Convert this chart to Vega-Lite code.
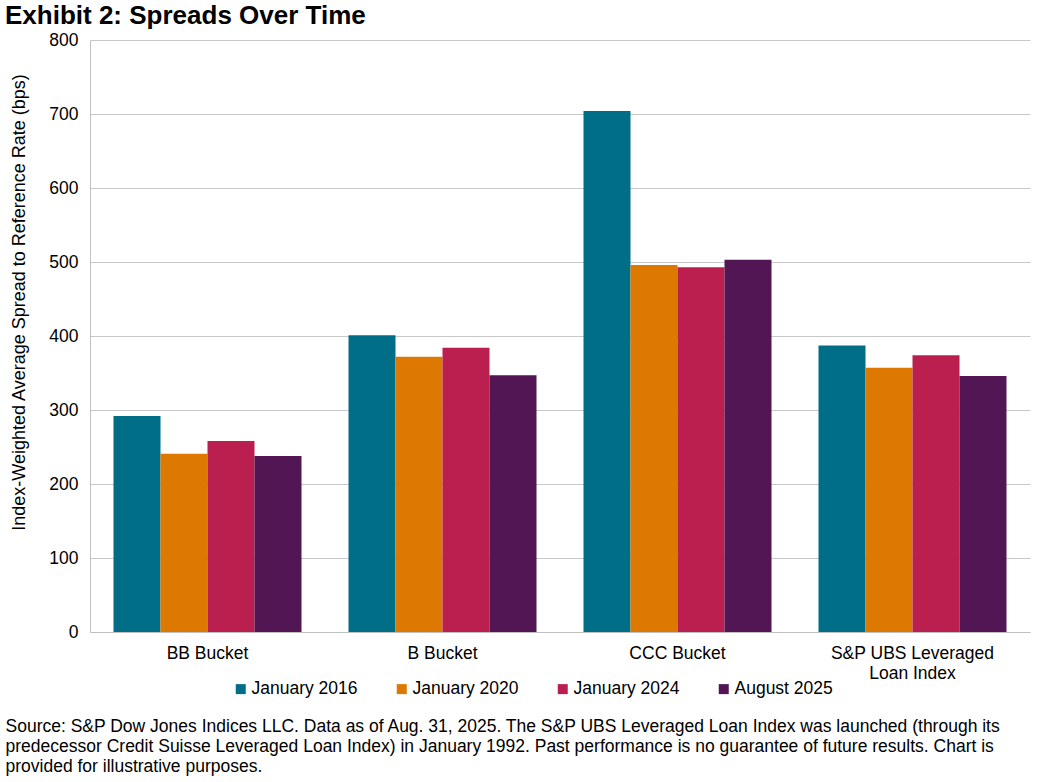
{
  "$schema": "https://vega.github.io/schema/vega-lite/v6.json",
  "width": 940,
  "height": 592,
  "autosize": {"type": "none"},
  "padding": {"left": 90, "top": 40, "right": 9, "bottom": 150},
  "background": "white",
  "config": {
    "font": "Liberation Sans",
    "view": {"stroke": null}
  },
  "title": {
    "text": "Exhibit 2: Spreads Over Time",
    "anchor": "start",
    "frame": "group",
    "fontSize": 26,
    "fontWeight": "bold",
    "color": "#000000",
    "font": "Liberation Sans",
    "dx": -85,
    "offset": 2
  },
  "data": {
    "values": [
      {"category": "BB Bucket", "series": "January 2016", "value": 292},
      {"category": "BB Bucket", "series": "January 2020", "value": 241},
      {"category": "BB Bucket", "series": "January 2024", "value": 258},
      {"category": "BB Bucket", "series": "August 2025", "value": 238},
      {"category": "B Bucket", "series": "January 2016", "value": 401},
      {"category": "B Bucket", "series": "January 2020", "value": 372},
      {"category": "B Bucket", "series": "January 2024", "value": 384},
      {"category": "B Bucket", "series": "August 2025", "value": 347},
      {"category": "CCC Bucket", "series": "January 2016", "value": 704},
      {"category": "CCC Bucket", "series": "January 2020", "value": 496},
      {"category": "CCC Bucket", "series": "January 2024", "value": 493},
      {"category": "CCC Bucket", "series": "August 2025", "value": 503},
      {"category": "S&P UBS Leveraged Loan Index", "series": "January 2016", "value": 387},
      {"category": "S&P UBS Leveraged Loan Index", "series": "January 2020", "value": 357},
      {"category": "S&P UBS Leveraged Loan Index", "series": "January 2024", "value": 374},
      {"category": "S&P UBS Leveraged Loan Index", "series": "August 2025", "value": 346}
    ]
  },
  "mark": {"type": "bar"},
  "encoding": {
    "x": {
      "field": "category",
      "type": "nominal",
      "sort": ["BB Bucket", "B Bucket", "CCC Bucket", "S&P UBS Leveraged Loan Index"],
      "scale": {"paddingInner": 0.2, "paddingOuter": 0.1},
      "axis": {
        "title": [
          "Source: S&P Dow Jones Indices LLC. Data as of Aug. 31, 2025. The S&P UBS Leveraged Loan Index was launched (through its",
          "predecessor Credit Suisse Leveraged Loan Index) in January 1992. Past performance is no guarantee of future results. Chart is",
          "provided for illustrative purposes."
        ],
        "titleFontSize": 17.5,
        "titleFontWeight": "normal",
        "titleColor": "#000000",
        "titleAnchor": "start",
        "titleAlign": "left",
        "titleBaseline": "top",
        "titleX": -85,
        "titleY": 85,
        "titleLineHeight": 20,
        "labelAngle": 0,
        "labelFontSize": 17.5,
        "labelColor": "#000000",
        "labelPadding": 12,
        "labelLineHeight": 20,
        "labelExpr": "datum.value == 'S&P UBS Leveraged Loan Index' ? ['S&P UBS Leveraged', 'Loan Index'] : datum.value",
        "ticks": false,
        "domainColor": "#c0c0c0",
        "domainWidth": 1
      }
    },
    "xOffset": {
      "field": "series",
      "type": "nominal",
      "sort": ["January 2016", "January 2020", "January 2024", "August 2025"],
      "scale": {"paddingInner": 0, "paddingOuter": 0}
    },
    "y": {
      "field": "value",
      "type": "quantitative",
      "scale": {"domain": [0, 800]},
      "axis": {
        "title": "Index-Weighted Average Spread to Reference Rate (bps)",
        "titleFontSize": 18,
        "titleFontWeight": "normal",
        "titleColor": "#000000",
        "titlePadding": 20,
        "titleY": 262,
        "values": [0, 100, 200, 300, 400, 500, 600, 700, 800],
        "labelFontSize": 17.5,
        "labelColor": "#000000",
        "labelPadding": 12,
        "ticks": false,
        "gridColor": "#c8c8c8",
        "gridWidth": 1,
        "domain": true,
        "domainColor": "#c0c0c0"
      }
    },
    "color": {
      "field": "series",
      "type": "nominal",
      "sort": ["January 2016", "January 2020", "January 2024", "August 2025"],
      "scale": {
        "domain": ["January 2016", "January 2020", "January 2024", "August 2025"],
        "range": ["#006E87", "#DD7800", "#BA1F50", "#511653"]
      },
      "legend": {
        "title": null,
        "orient": "none",
        "direction": "horizontal",
        "legendX": 142,
        "legendY": 640,
        "symbolType": "square",
        "symbolSize": 100,
        "symbolStrokeWidth": 0,
        "labelFontSize": 17.5,
        "labelColor": "#000000",
        "labelOffset": 2,
        "columnPadding": 35
      }
    }
  }
}
